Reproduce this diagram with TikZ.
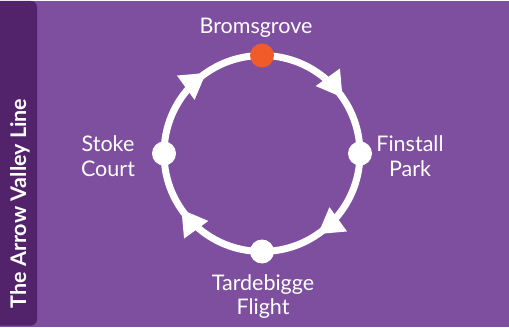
\documentclass[tikz,border=0pt]{standalone}
\usepackage{fontspec}
\setmainfont{Lato}
\usetikzlibrary{positioning,arrows.meta,decorations.markings,backgrounds}
\definecolor{linebg}{HTML}{7E4F9E}
\definecolor{linebar}{HTML}{52236A}
\definecolor{hubdot}{HTML}{F15A29}
\tikzset{
	station/.style={circle, fill=white, minimum size=24pt, inner sep=0pt},
	hub/.style={station, fill=hubdot},
	stop label/.style={text=white, inner sep=0pt, align=center,
		font=\fontsize{21.5}{24.5}\selectfont},
	track/.style={white, line width=7pt, postaction={decorate},
		decoration={markings,
			mark=at position 0.6 with {\fill[white] (2pt,0) -- (-23pt,15pt) -- (-23pt,-15pt) -- cycle;}}},
}

\begin{document}
\begin{tikzpicture}[x=1pt,y=1pt]
	\useasboundingbox (0,0) rectangle (509,327);
	% stations
	\node[hub] (brom) at (262,271.5) {};
	\node[station] (finstall) at (360,173.5) {};
	\node[station] (tarde) at (262,75.5) {};
	\node[station] (stoke) at (164,173.5) {};
	% names
	\node[stop label, anchor=base] (brom label) at (256,293) {Bromsgrove};
	\node[stop label] (finstall label) at (410,171) {Finstall\\Park};
	\node[stop label] (tarde label) at (263,30.5) {Tardebigge\\Flight};
	\node[stop label] (stoke label) at (108,171) {Stoke\\Court};
	\node[rotate=90, anchor=base, text=white,
		font=\bfseries\fontsize{21.5}{24}\selectfont] (title) at (26,123.5) {The Arrow Valley Line};
	\begin{scope}[on background layer]
		\fill[linebg] (0,0) rectangle (509,326);
		\fill[linebar, rounded corners=6pt] (-8,1.5) rectangle (37,326);
		% the loop
		\draw[track] (brom.center) to[out=0,in=90] (finstall.center);
		\draw[track] (finstall.center) to[out=-90,in=0] (tarde.center);
		\draw[track] (tarde.center) to[out=180,in=-90] (stoke.center);
		\draw[track] (stoke.center) to[out=90,in=180] (brom.center);
	\end{scope}
\end{tikzpicture}
\end{document}
